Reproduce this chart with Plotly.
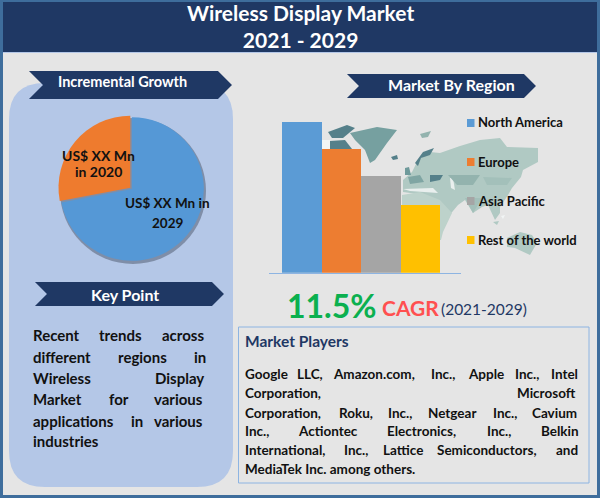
import plotly.graph_objects as go

W, H = 600, 498
FONT = "Lato"
NAVY = "#1f3864"

regions = ["North America", "Europe", "Asia Pacific", "Rest of the world"]
region_share = [100, 82, 64, 45]
region_colors = ["#5b9bd5", "#ed7d31", "#a5a5a5", "#ffc000"]

pie_labels = ["US$ XX Mn in 2029", "US$ XX Mn in 2020"]
pie_values = [72, 28]
pie_colors = ["#5598d6", "#ee7b2e"]

# justified paragraphs: each line is a list of (word, left px)
key_point_lines = [
    [("Recent", 33), ("trends", 99), ("across", 162)],
    [("different", 33), ("regions", 118), ("in", 194)],
    [("Wireless", 33), ("Display", 155)],
    [("Market", 33), ("for", 109), ("various", 154)],
    [("applications", 33), ("in", 131), ("various", 154)],
    [("industries", 33)],
]
key_point_y = [335, 356.5, 378, 399, 421, 441]

player_lines = [
    [("Google", 245), ("LLC,", 297), ("Amazon.com,", 333), ("Inc.,", 431), ("Apple", 468), ("Inc.,", 515), ("Intel", 551)],
    [("Corporation,", 245), ("Microsoft", 517)],
    [("Corporation,", 245), ("Roku,", 339), ("Inc.,", 388), ("Netgear", 428), ("Inc.,", 493), ("Cavium", 532)],
    [("Inc.,", 245), ("Actiontec", 298), ("Electronics,", 387), ("Inc.,", 487), ("Belkin", 541)],
    [("International,", 245), ("Inc.,", 344), ("Lattice", 383), ("Semiconductors,", 437), ("and", 556)],
    [("MediaTek Inc. among others.", 245)],
]
player_y = [374, 393, 412.5, 431, 450, 468.5]

# backdrop world map, rough outlines in page pixels: (colour, points)
map_shapes = [
    ("#b0c9c3", [(412, 172), (418, 160), (430, 152), (440, 153), (460, 146), (480, 140), (500, 138), (507, 147), (538, 148),
                 (538, 162), (523, 170), (521, 177), (512, 188), (508, 195), (500, 207), (500, 213), (495, 220), (488, 205),
                 (482, 207), (473, 213), (465, 200), (458, 205), (443, 223), (438, 205), (425, 195), (403, 192), (403, 180)]),
    ("#bdd2cb", [(402, 195), (420, 192), (440, 200), (452, 213), (443, 232), (441, 240), (425, 240), (402, 215)]),
    ("#e9efee", [(403, 189), (433, 188), (438, 193), (410, 191)]),
    ("#e9efee", [(450, 178), (453, 178), (455, 190), (451, 188)]),
    ("#93b3ae", [(448, 175), (480, 175), (473, 185), (457, 185)]),
    ("#a3c0ba", [(483, 177), (512, 178), (507, 185), (487, 185)]),
    ("#a3c0ba", [(465, 198), (482, 198), (473, 213)]),
    ("#55808a", [(430, 175), (443, 175), (440, 180), (430, 182)]),
    ("#55808a", [(415, 163), (423, 152), (434, 148), (430, 155), (421, 158), (418, 166)]),
    ("#6f9a9b", [(405, 168), (409, 167), (411, 175), (405, 175)]),
    ("#7fa5a3", [(408, 177), (420, 175), (424, 182), (410, 184)]),
    ("#76a0a0", [(350, 133), (377, 127), (397, 130), (387, 143), (375, 160), (370, 163), (365, 150), (355, 140)]),
    ("#55808a", [(328, 132), (347, 125), (355, 128), (343, 138), (332, 138)]),
    ("#f2f5f5", [(322, 140), (330, 140), (330, 149), (322, 149)]),
    ("#55808a", [(330, 141), (345, 140), (352, 149), (330, 149)]),
    ("#55808a", [(391, 157), (397, 155), (398, 159), (393, 160)]),
    ("#93b3ae", [(420, 134), (431, 131), (428, 137), (422, 138)]),
    ("#b0c9c3", [(507, 238), (520, 232), (532, 235), (537, 243), (530, 255), (515, 248), (507, 247)]),
    ("#f2f5f5", [(501, 216), (505, 215), (503, 219)]),
    ("#b0c9c3", [(493, 222), (499, 221), (497, 225)]),
]


def px(x):
    return x / W


def py(y):
    return 1 - y / H


def poly(points):
    return "M" + " L".join(f"{px(x):.5f},{py(y):.5f}" for x, y in points) + " Z"


def rect(x0, y0, x1, y1, color, line=None, lw=0):
    return dict(type="rect", xref="paper", yref="paper", x0=px(x0), x1=px(x1), y0=py(y0), y1=py(y1),
                fillcolor=color, line=dict(color=line, width=lw), layer="below")


def polygon(points, color):
    return dict(type="path", xref="paper", yref="paper", path=poly(points), fillcolor=color,
                line=dict(width=0), layer="below")


def rounded(x0, y0, x1, y1, r, color):
    path = (f"M{px(x0 + r):.5f},{py(y0):.5f} L{px(x1 - r):.5f},{py(y0):.5f} "
            f"Q{px(x1):.5f},{py(y0):.5f} {px(x1):.5f},{py(y0 + r):.5f} "
            f"L{px(x1):.5f},{py(y1 - r):.5f} Q{px(x1):.5f},{py(y1):.5f} {px(x1 - r):.5f},{py(y1):.5f} "
            f"L{px(x0 + r):.5f},{py(y1):.5f} Q{px(x0):.5f},{py(y1):.5f} {px(x0):.5f},{py(y1 - r):.5f} "
            f"L{px(x0):.5f},{py(y0 + r):.5f} Q{px(x0):.5f},{py(y0):.5f} {px(x0 + r):.5f},{py(y0):.5f} Z")
    return dict(type="path", xref="paper", yref="paper", path=path, fillcolor=color,
                line=dict(width=0), layer="below")


def ribbon(x0, y0, x1, y1, notch):
    mid = (y0 + y1) / 2
    return polygon([(x0, y0), (x1 - notch, y0), (x1, mid), (x1 - notch, y1), (x0, y1), (x0 + notch, mid)], NAVY)


def label(text, x, y, size, color="#111111", anchor="center", bold=True):
    if bold:
        text = f"<b>{text}</b>"
    return dict(text=text, x=px(x), y=py(y), xref="paper", yref="paper", xanchor=anchor, yanchor="middle",
                showarrow=False, borderpad=0, borderwidth=0, font=dict(family=FONT, size=size, color=color))


shapes = [
    rect(0, 0, W, H, "#3e6d9c"),
    rect(3, 52, 597, 495, "#e5e5e5"),
    rect(3, 2, 597, 52, NAVY),
    rect(3, 52, 597, 53, "#b4c7e7"),
    rounded(9, 83, 233, 487, 36, "#b4c7e7"),
    ribbon(29, 71, 232, 99, 14),
    ribbon(347, 74, 536, 98, 12),
    ribbon(35, 282, 224, 306, 12),
    rect(238.5, 327, 589, 483, "rgba(0,0,0,0)", "#8db4e2", 1),
    dict(type="circle", xref="paper", yref="paper", x0=px(60), x1=px(206), y0=py(118), y1=py(264),
         fillcolor="#7f8ea8", line=dict(width=0), layer="below"),
]
for color, points in map_shapes:
    shapes.append(polygon(points, color))

annotations = [
    label("Wireless Display Market<br>2021 - 2029", 300, 26, 21, "white"),
    label("Incremental Growth", 123, 81, 14.5, "white"),
    label("Market By Region", 451, 84, 16, "white"),
    label("Key Point", 125, 294, 16, "white"),
    label("US$ XX Mn", 98, 155, 14),
    label("in 2020", 98, 171, 14),
    label("US$ XX Mn in", 167, 203, 13.5),
    label("2029", 167, 223, 13.5),
    label("11.5%", 287, 305, 32, "#0bb04f", "left"),
    label("CAGR", 382, 307, 21, "#ff5050", "left"),
    label("(2021-2029)", 441, 309, 15.5, NAVY, "left", bold=False),
    label("Market Players", 245, 341, 15.5, NAVY, "left"),
]

for i, name in enumerate(regions):
    row = 123 + i * 39
    shapes.append(rect(467, row - 4, 474.5, row + 4, region_colors[i]))
    annotations.append(label(name, 478, row - 0.5, 13, "#111111", "left"))

for line, y in zip(key_point_lines, key_point_y):
    for word, x in line:
        annotations.append(label(word, x, y, 15, "#111111", "left"))

for line, y in zip(player_lines, player_y):
    for word, x in line:
        annotations.append(label(word, x, y, 13.5, "#111111", "left"))

fig = go.Figure()

for i, name in enumerate(regions):
    fig.add_trace(go.Bar(x=[name], y=[region_share[i]], name=name, marker=dict(color=region_colors[i], line=dict(width=0)),
                         showlegend=False, hoverinfo="x+y"))

fig.add_trace(go.Pie(labels=pie_labels, values=pie_values, sort=False, direction="clockwise", rotation=0,
                     pull=[0, 0.03], marker=dict(colors=pie_colors, line=dict(width=0)), textinfo="none",
                     showlegend=False, domain=dict(x=[px(58), px(206)], y=[py(263), py(115)])))

fig.update_layout(
    width=W,
    height=H,
    margin=dict(l=0, r=0, t=0, b=0),
    paper_bgcolor="#e5e5e5",
    plot_bgcolor="rgba(0,0,0,0)",
    barmode="overlay",
    bargap=0,
    showlegend=False,
    shapes=shapes,
    annotations=annotations,
    xaxis=dict(domain=[px(269), px(461)], type="category", categoryorder="array", categoryarray=regions,
               range=[-0.83, 4.03], showticklabels=False, ticks="", showgrid=False, zeroline=False,
               showline=True, linecolor="#8db4e2", linewidth=1),
    yaxis=dict(domain=[py(272.7), py(122)], range=[0, 100], showticklabels=False, ticks="", showgrid=False,
               zeroline=False, showline=False),
)

fig.write_html("out.html", config=dict(displayModeBar=False),
               post_script="document.body.style.margin='0';document.body.style.overflow='hidden';")
